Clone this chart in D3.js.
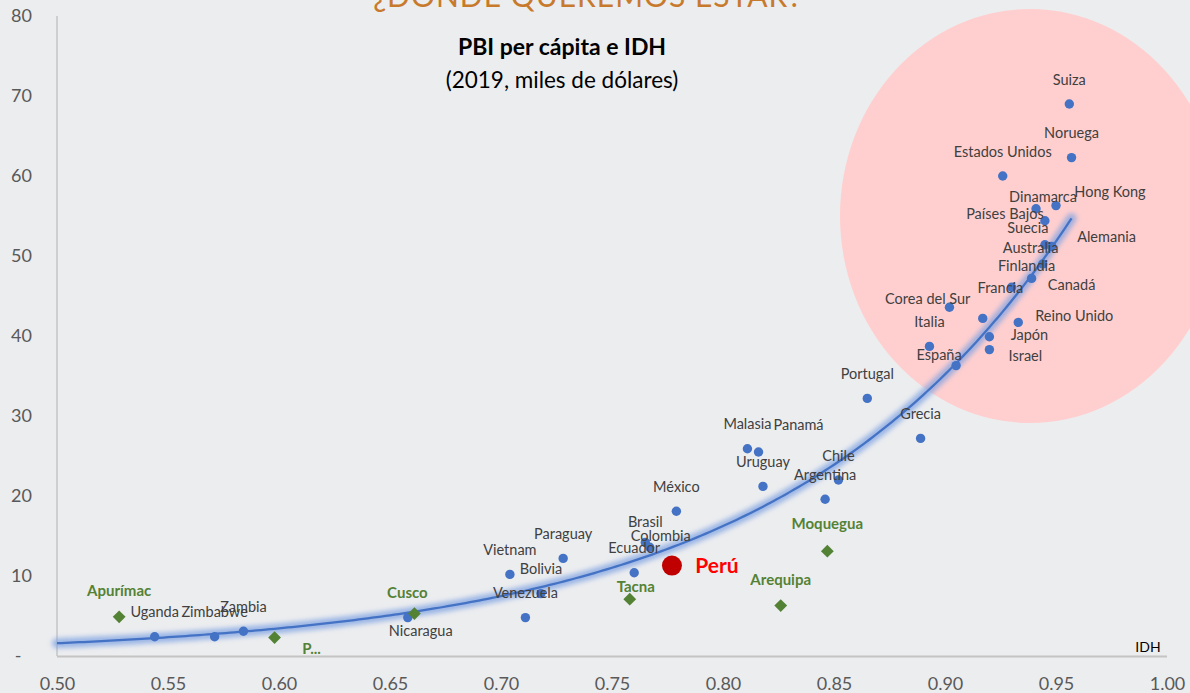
<!DOCTYPE html>
<html lang="es">
<head>
<meta charset="utf-8">
<script src="https://cdn.jsdelivr.net/npm/d3@7"></script>
<style>
  html, body { margin: 0; padding: 0; background: #ECEDEF; }
  svg { display: block; }
  text { font-family: Lato, "Open Sans", "DejaVu Sans", sans-serif; }
</style>
</head>
<body>
<svg id="chart" width="1190" height="693"></svg>
<script>
// PBI per cápita (miles de dólares, 2019) frente al IDH
const countryNames = [
  "Suiza", "Noruega", "Estados Unidos", "Dinamarca", "Hong Kong", "Países Bajos",
  "Suecia", "Alemania", "Australia", "Finlandia", "Canadá", "Francia",
  "Corea del Sur", "Reino Unido", "Japón", "Israel", "Italia", "España",
  "Portugal", "Grecia", "Malasia", "Panamá", "Uruguay", "Chile", "Argentina",
  "México", "Brasil", "Colombia", "Ecuador", "Paraguay", "Vietnam", "Bolivia",
  "Venezuela", "Nicaragua", "Uganda", "Zimbabwe", "Zambia"
];
const countryIdh = [
  0.956, 0.957, 0.926, 0.941, 0.950, 0.945,
  0.945, 0.948, 0.944, 0.939, 0.930, 0.902,
  0.917, 0.933, 0.920, 0.920, 0.893, 0.905,
  0.865, 0.889, 0.811, 0.816, 0.818, 0.852, 0.846,
  0.779, 0.765, 0.767, 0.760, 0.728, 0.704, 0.718,
  0.711, 0.658, 0.544, 0.571, 0.584
];
const countryPbi = [
  69.0, 62.3, 60.0, 55.9, 56.3, 54.4,
  51.4, 51.2, 49.0, 47.2, 46.1, 43.6,
  42.2, 41.7, 39.9, 38.3, 38.7, 36.3,
  32.2, 27.2, 25.9, 25.5, 21.2, 22.0, 19.6,
  18.1, 14.2, 13.6, 10.4, 12.2, 10.2, 7.8,
  4.8, 4.8, 2.4, 2.4, 3.1
];

// Regiones del Perú
const regionNames = ["Apurímac", "P...", "Cusco", "Tacna", "Arequipa", "Moquegua"];
const regionIdh = [0.528, 0.598, 0.661, 0.758, 0.826, 0.847];
const regionPbi = [4.9, 2.3, 5.3, 7.1, 6.3, 13.1];

// Perú
const peruName = "Perú";
const peruIdh = 0.777;
const peruPbi = 11.3;

// Ejes
const xTicks = [0.50, 0.55, 0.60, 0.65, 0.70, 0.75, 0.80, 0.85, 0.90, 0.95, 1.00];
const yTicks = [0, 10, 20, 30, 40, 50, 60, 70, 80];

// Desplazamiento de cada etiqueta respecto de su punto (px)
const labelShift = {
  "Dinamarca": [7, -12], "Hong Kong": [54, -14], "Países Bajos": [-40, -7],
  "Suecia": [-17, -17], "Alemania": [55, -10], "Australia": [-12, -17],
  "Finlandia": [-5, -13], "Canadá": [60, -3], "Francia": [51, -20],
  "Corea del Sur": [-55, -20], "Reino Unido": [56, -7], "Japón": [40, -2],
  "Israel": [36, 6], "España": [-17, -11], "Panamá": [40, -28],
  "Brasil": [0, -21], "Colombia": [11, -12], "Nicaragua": [13, 13],
  "Apurímac": [0, -27], "P...": [37, 10], "Cusco": [-7, -22],
  "Tacna": [6, -13], "Arequipa": [0, -27], "Moquegua": [0, -28],
  "Perú": [45, -1]
};
const defaultShift = [0, -25];

const svg = d3.select("#chart");
const W = 1190, H = 693;

const x = d3.scaleLinear().domain([0.5, 1.0]).range([57, 1167]);
const y = d3.scaleLinear().domain([0, 80]).range([656, 16]);

const defs = svg.append("defs");
defs.append("filter").attr("id", "glow")
  .attr("x", "-10%").attr("y", "-10%").attr("width", "120%").attr("height", "120%")
  .append("feGaussianBlur").attr("stdDeviation", 2.6);

svg.append("rect").attr("width", W).attr("height", H).attr("fill", "#ECEDEF");

// Zona de países desarrollados
svg.append("ellipse")
  .attr("cx", 1030).attr("cy", 216).attr("rx", 190).attr("ry", 207)
  .attr("fill", "#FFCFCF");

// Título de la lámina
svg.append("text")
  .attr("x", 588).attr("y", 7)
  .attr("text-anchor", "middle")
  .attr("font-size", 30).attr("font-weight", 400)
  .attr("letter-spacing", 1)
  .attr("fill", "#C87A2C")
  .text("¿DÓNDE QUEREMOS ESTAR?");

// Título del gráfico
svg.append("text")
  .attr("x", 562).attr("y", 55)
  .attr("text-anchor", "middle")
  .attr("font-size", 23).attr("font-weight", 700).attr("fill", "#000")
  .text("PBI per cápita e IDH");
svg.append("text")
  .attr("x", 562).attr("y", 88)
  .attr("text-anchor", "middle")
  .attr("font-size", 22.5).attr("fill", "#000")
  .text("(2019, miles de dólares)");

// Ejes
svg.append("line")
  .attr("x1", x(0.5)).attr("x2", x(0.5))
  .attr("y1", y(80)).attr("y2", y(0))
  .attr("stroke", "#C4C4C4").attr("stroke-width", 1.5);
svg.append("line")
  .attr("x1", x(0.5)).attr("x2", x(1.0))
  .attr("y1", y(0) + 0.5).attr("y2", y(0) + 0.5)
  .attr("stroke", "#C4C4C4").attr("stroke-width", 2);

const xAxis = d3.axisBottom(x).tickValues(xTicks).tickSize(0).tickPadding(0)
  .tickFormat(d3.format(".2f"));
const gx = svg.append("g").attr("transform", `translate(0,${y(0)})`).call(xAxis);
gx.select(".domain").remove();
gx.selectAll("text")
  .attr("dy", null).attr("y", 34)
  .attr("font-size", 18).attr("fill", "#595959")
  .attr("font-family", "Lato, 'Open Sans', sans-serif");

const yAxis = d3.axisLeft(y).tickValues(yTicks).tickSize(0).tickPadding(0)
  .tickFormat(d => d === 0 ? "-" : d3.format("d")(d));
const gy = svg.append("g").attr("transform", "translate(32,0)").call(yAxis);
gy.select(".domain").remove();
gy.selectAll("text")
  .attr("font-size", 18).attr("fill", "#595959")
  .attr("font-family", "Lato, 'Open Sans', sans-serif");
gy.selectAll(".tick").filter(d => d === 0).select("text")
  .attr("text-anchor", "middle").attr("x", -14);

svg.append("text")
  .attr("x", 1148).attr("y", 652)
  .attr("text-anchor", "middle")
  .attr("font-size", 14).attr("fill", "#000")
  .text("IDH");

// Línea de tendencia exponencial: mínimos cuadrados sobre ln(PBI) con todos los puntos
const allIdh = countryIdh.concat(regionIdh, [peruIdh]);
const allPbi = countryPbi.concat(regionPbi, [peruPbi]);
const lnY = allPbi.map(v => Math.log(v));
const mx = d3.mean(allIdh), my = d3.mean(lnY);
let sxy = 0, sxx = 0;
for (let i = 0; i < allIdh.length; i++) {
  sxy += (allIdh[i] - mx) * (lnY[i] - my);
  sxx += (allIdh[i] - mx) ** 2;
}
const b = sxy / sxx;
const a = Math.exp(my - b * mx);
const xMax = d3.max(allIdh);
const trendX = d3.range(0.5, xMax, 0.002).concat([xMax]);
const trend = d3.line().x(d => x(d)).y(d => y(a * Math.exp(b * d)));

svg.append("path").datum(trendX)
  .attr("d", trend).attr("fill", "none")
  .attr("stroke", "#7FA2E2").attr("stroke-opacity", 0.75)
  .attr("stroke-width", 10).attr("stroke-linecap", "round")
  .attr("filter", "url(#glow)");
svg.append("path").datum(trendX)
  .attr("d", trend).attr("fill", "none")
  .attr("stroke", "#4472C4").attr("stroke-width", 2.25);

// Puntos
const countries = countryNames.map((name, i) => ({ name, idh: countryIdh[i], pbi: countryPbi[i] }));
const regions = regionNames.map((name, i) => ({ name, idh: regionIdh[i], pbi: regionPbi[i] }));

svg.append("g").selectAll("circle").data(countries).join("circle")
  .attr("cx", d => x(d.idh)).attr("cy", d => y(d.pbi))
  .attr("r", 4.7).attr("fill", "#4472C4");

svg.append("g").selectAll("path").data(regions).join("path")
  .attr("transform", d => `translate(${x(d.idh)},${y(d.pbi)}) rotate(45)`)
  .attr("d", d3.symbol(d3.symbolSquare, 82))
  .attr("fill", "#548235");

svg.append("circle")
  .attr("cx", x(peruIdh)).attr("cy", y(peruPbi))
  .attr("r", 10).attr("fill", "#C00000");

// Etiquetas
const shift = name => labelShift[name] || defaultShift;

svg.append("g").selectAll("text").data(countries).join("text")
  .attr("x", d => x(d.idh) + shift(d.name)[0])
  .attr("y", d => y(d.pbi) + shift(d.name)[1])
  .attr("text-anchor", "middle").attr("dominant-baseline", "central")
  .attr("font-size", 14.5).attr("fill", "#404040")
  .text(d => d.name);

svg.append("g").selectAll("text").data(regions).join("text")
  .attr("x", d => x(d.idh) + shift(d.name)[0])
  .attr("y", d => y(d.pbi) + shift(d.name)[1])
  .attr("text-anchor", "middle").attr("dominant-baseline", "central")
  .attr("font-size", 15).attr("font-weight", 700).attr("fill", "#548235")
  .text(d => d.name);

svg.append("text")
  .attr("x", x(peruIdh) + shift(peruName)[0])
  .attr("y", y(peruPbi) + shift(peruName)[1])
  .attr("text-anchor", "middle").attr("dominant-baseline", "central")
  .attr("font-size", 21).attr("font-weight", 700).attr("fill", "#FF0000")
  .text(peruName);
</script>
</body>
</html>
